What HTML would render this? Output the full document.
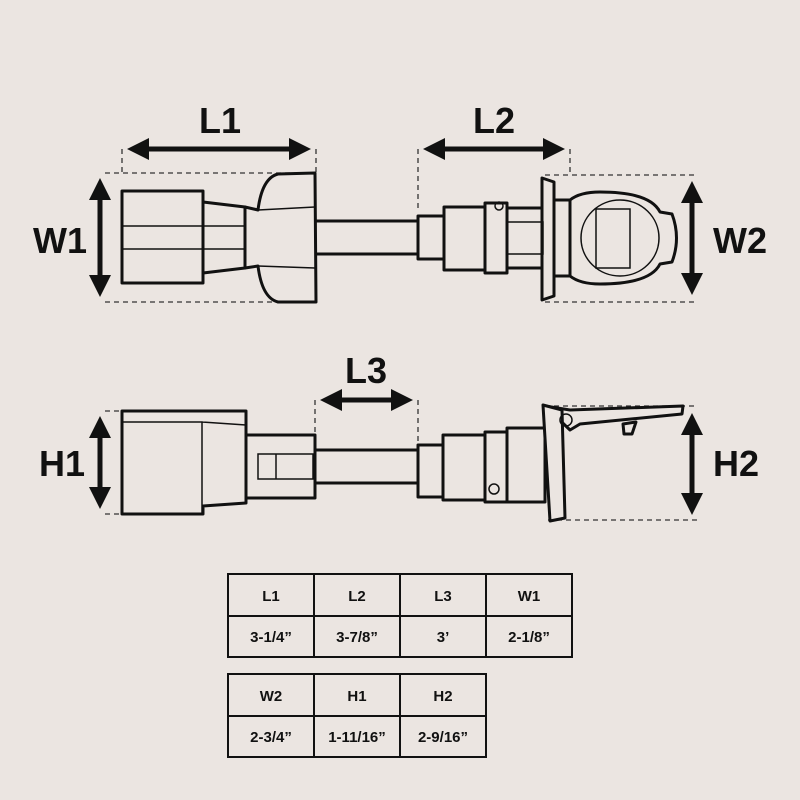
<!DOCTYPE html>
<html><head><style>
html,body{margin:0;padding:0;background:#ebe5e1;}
svg{display:block}
text{font-family:"Liberation Sans",sans-serif;fill:#111}
</style></head><body>
<svg width="800" height="800" viewBox="0 0 800 800" xmlns="http://www.w3.org/2000/svg">
<defs>
<marker id="ah" markerWidth="4.4" markerHeight="4.4" refX="3.4" refY="2.2" orient="auto-start-reverse" markerUnits="strokeWidth"><path d="M0,0 L4.4,2.2 L0,4.4 Z" fill="#111"/></marker>
</defs>
<rect width="800" height="800" fill="#ebe5e1"/>
<g fill="none" stroke="#333" stroke-width="1.3" stroke-dasharray="5,4">
<path d="M122 149V173 M316 149V173 M105 173H316 M105 302H316"/>
<path d="M418 149V210 M570 149V175 M545 175H697 M545 302H697"/>
<path d="M315 400V450 M418 400V445 M105 411H122 M105 514H122"/>
<path d="M545 406H697 M548 520H697"/>
</g>
<g stroke="#111" stroke-width="5" fill="none">
<line x1="132" y1="149" x2="306" y2="149" marker-start="url(#ah)" marker-end="url(#ah)"/>
<line x1="428" y1="149" x2="560" y2="149" marker-start="url(#ah)" marker-end="url(#ah)"/>
<line x1="100" y1="183" x2="100" y2="292" marker-start="url(#ah)" marker-end="url(#ah)"/>
<line x1="692" y1="186" x2="692" y2="290" marker-start="url(#ah)" marker-end="url(#ah)"/>
<line x1="325" y1="400" x2="408" y2="400" marker-start="url(#ah)" marker-end="url(#ah)"/>
<line x1="100" y1="421" x2="100" y2="504" marker-start="url(#ah)" marker-end="url(#ah)"/>
<line x1="692" y1="418" x2="692" y2="510" marker-start="url(#ah)" marker-end="url(#ah)"/>
</g>
<g font-size="36" font-weight="bold" text-anchor="middle">
<text x="220" y="133">L1</text>
<text x="494" y="133">L2</text>
<text x="60" y="253">W1</text>
<text x="740" y="253">W2</text>
<text x="366" y="383">L3</text>
<text x="62" y="476">H1</text>
<text x="736" y="476">H2</text>
</g>
<g stroke="#111" stroke-width="3" fill="#ebe5e1" stroke-linejoin="round">
<rect x="315" y="221" width="103" height="33"/>
<path d="M203 202 L245 207 L245 268 L203 273 Z"/>
<rect x="122" y="191" width="81" height="92"/>
<path d="M245 207 L258 210 Q262 178 278 174 L315 173 L316 302 L278 302 Q262 298 258 266 L245 268 Z"/>
<rect x="418" y="216" width="26" height="43"/>
<rect x="444" y="207" width="41" height="63"/>
<rect x="485" y="203" width="22" height="70"/>
<rect x="507" y="208" width="36" height="60"/>
<path d="M570 200 Q580 192 600 192 Q650 192 660 212 L672 214 Q681 238 672 262 L660 264 Q650 284 600 284 Q580 284 570 276 Z"/>
<path d="M554 200 H570 V276 H554 Z"/>
<path d="M542 178 L554 182 L554 296 L542 300 Z"/>
</g>
<g stroke="#111" stroke-width="1.5" fill="none">
<path d="M122 226H245 M122 249H245 M258 210 L315 207 M258 266 L315 268"/>
<rect x="507" y="222" width="36" height="32"/>
<ellipse cx="620" cy="238" rx="39" ry="38"/>
<rect x="596" y="209" width="34" height="59"/>
<circle cx="499" cy="206" r="4"/>
</g>
<g stroke="#111" stroke-width="3" fill="#ebe5e1" stroke-linejoin="round">
<rect x="315" y="450" width="103" height="33"/>
<path d="M122 411 H246 V503 L203 506 V514 H122 Z"/>
<rect x="246" y="435" width="69" height="63"/>
<rect x="418" y="445" width="25" height="52"/>
<rect x="443" y="435" width="42" height="65"/>
<rect x="485" y="432" width="22" height="70"/>
<rect x="507" y="428" width="38" height="74"/>
<path d="M545 406 L570 410 L683 406 L682 414 L580 424 L570 430 Z"/>
<path d="M623 424 L636 422 L632 434 L624 434 Z"/>
<path d="M543 405 L562 410 L565 518 L550 521 Z"/>
</g>
<g stroke="#111" stroke-width="1.5" fill="none">
<path d="M122 422 H202 V514 M202 422 L246 425"/>
<rect x="258" y="454" width="55" height="25"/>
<path d="M276 454V479"/>
<circle cx="566" cy="420" r="6"/>
<circle cx="494" cy="489" r="5"/>
</g>
<g stroke="#111" stroke-width="2" fill="none">
<rect x="228" y="574" width="344" height="83"/>
<path d="M228 616H572 M314 574V657 M400 574V657 M486 574V657"/>
<rect x="228" y="674" width="258" height="83"/>
<path d="M228 716H486 M314 674V757 M400 674V757"/>
</g>
<g font-size="15" font-weight="bold" text-anchor="middle">
<text x="271" y="601">L1</text><text x="357" y="601">L2</text><text x="443" y="601">L3</text><text x="529" y="601">W1</text>
<text x="271" y="642">3-1/4”</text><text x="357" y="642">3-7/8”</text><text x="443" y="642">3’</text><text x="529" y="642">2-1/8”</text>
<text x="271" y="701">W2</text><text x="357" y="701">H1</text><text x="443" y="701">H2</text>
<text x="271" y="742">2-3/4”</text><text x="357" y="742">1-11/16”</text><text x="443" y="742">2-9/16”</text>
</g>
</svg>
</body></html>
